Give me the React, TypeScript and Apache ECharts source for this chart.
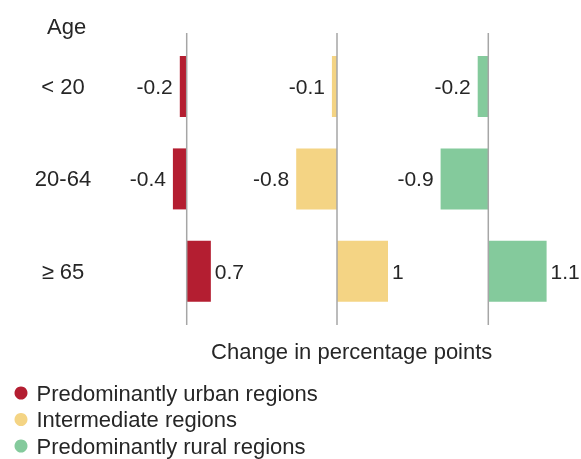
import React, { useEffect, useRef } from "react";
import * as echarts from "echarts";

const categories = ["< 20", "20-64", "≥ 65"];
const urban = [-0.2, -0.4, 0.7];
const intermediate = [-0.1, -0.8, 1];
const rural = [-0.2, -0.9, 1.1];
const seriesNames = [
  "Predominantly urban regions",
  "Intermediate regions",
  "Predominantly rural regions",
];
const colors = ["#B41E31", "#F4D484", "#84CA9C"];
const axisTitle = "Change in percentage points";
const catTitle = "Age";

const FONT = "Liberation Sans, Arial, sans-serif";
const TEXT = "#262626";

export default function App() {
  const ref = useRef<HTMLDivElement>(null);
  useEffect(() => {
    if (!ref.current) return;
    const chart = echarts.init(ref.current, null, { renderer: "svg" });
    const values = [urban, intermediate, rural];
    const panels = [
      { left: 134.95, width: 103.5 },
      { left: 260.5, width: 153 },
      { left: 408.8, width: 159 },
    ];
    const top = 40.3;
    const height = 277.2;
    const option: any = {
      animation: false,
      textStyle: { fontFamily: FONT },
      grid: panels.map((p) => ({ left: p.left, width: p.width, top, height, containLabel: false })),
      xAxis: panels.map((_, i) => ({
        gridIndex: i,
        type: "value",
        min: -1.5,
        max: 1.5,
        show: false,
      })),
      yAxis: panels.map((p, i) => ({
        gridIndex: i,
        type: "category",
        data: categories,
        inverse: true,
        axisLine: { show: false, onZero: false },
        axisTick: { show: false },
        splitLine: { show: false },
        axisLabel: {
          show: i === 0,
          align: "center",
          margin: p.left - 63,
          fontSize: 22,
          color: TEXT,
          fontFamily: FONT,
        },
      })),
      legend: {
        orient: "vertical",
        left: 9.5,
        top: 377,
        height: 200,
        icon: "circle",
        itemWidth: 13,
        itemHeight: 13,
        itemGap: 4.5,
        data: seriesNames,
        textStyle: {
          fontSize: 22,
          color: TEXT,
          fontFamily: FONT,
          lineHeight: 22,
          padding: [0, 0, 0, 4],
        },
      },
      series: values.map((vals, i) => ({
        type: "bar",
        name: seriesNames[i],
        xAxisIndex: i,
        yAxisIndex: i,
        barWidth: 61,
        itemStyle: { color: colors[i] },
        data: vals.map((v) => ({
          value: v,
          label: {
            show: true,
            position: v < 0 ? "left" : "right",
            distance: v < 0 ? 7 : 4,
            fontSize: 21,
            color: TEXT,
            fontFamily: FONT,
            formatter: (p: any) => String(p.value),
          },
        })),
      })),
      graphic: [
        {
          type: "text",
          left: 47,
          top: 15,
          style: { text: catTitle, fontSize: 22, fill: TEXT, fontFamily: FONT },
        },
        {
          type: "text",
          x: 351.7,
          y: 351.7,
          style: {
            text: axisTitle,
            fontSize: 22,
            fill: TEXT,
            fontFamily: FONT,
            textAlign: "center",
            textVerticalAlign: "middle",
          },
        },
      ],
    };
    chart.setOption(option);
    const lines = panels.map((_, i) => {
      const x = chart.convertToPixel({ xAxisIndex: i } as any, 0) as number;
      return {
        type: "line",
        z: 10,
        shape: { x1: x, y1: 33, x2: x, y2: 325 },
        style: { stroke: "#A6A6A6", lineWidth: 1.5 },
      };
    });
    chart.setOption({ graphic: [...option.graphic, ...lines] });
    return () => chart.dispose();
  }, []);
  return (
    <div
      ref={ref}
      style={{ position: "fixed", left: 0, top: 0, width: 581, height: 459 }}
    />
  );
}
